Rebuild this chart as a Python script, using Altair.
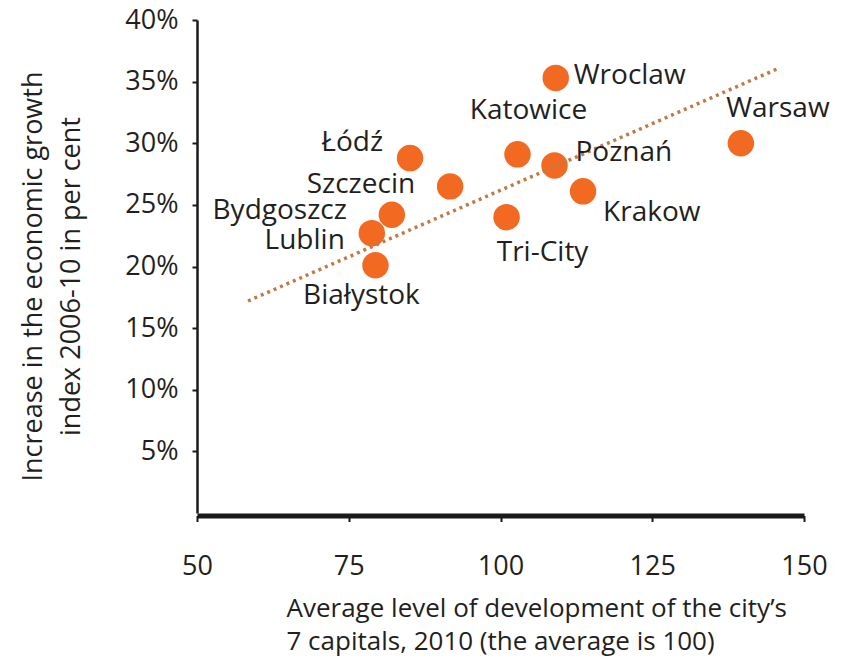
import altair as alt
import pandas as pd

# ---- data ----
cities = ["Wroclaw", "Warsaw", "Katowice", "Poznań", "Krakow", "Tri-City",
          "Szczecin", "Łódź", "Bydgoszcz", "Lublin", "Białystok"]
development = [109.1, 139.6, 102.8, 108.9, 113.6, 101.0, 91.7, 85.1, 82.1, 78.8, 79.4]
growth = [0.353, 0.300, 0.291, 0.282, 0.261, 0.240, 0.265, 0.288, 0.242, 0.227, 0.201]

trend_x = [58.4, 145.9]
trend_y = [0.172, 0.361]

x_ticks = [50, 75, 100, 125, 150]
y_ticks = [0.05, 0.10, 0.15, 0.20, 0.25, 0.30, 0.35, 0.40]

x_title = ["Average level of development of the city\u2019s",
           "7 capitals, 2010 (the average is 100)"]
y_title = ["Increase in the economic growth", "index 2006-10 in per cent"]

# label placement (style): align, dx, dy
placement = {
    "Wroclaw": ("left", 18, -2),
    "Katowice": ("center", 11, -43),
    "Warsaw": ("center", 37, -34),
    "Poznań": ("left", 21, -12),
    "Krakow": ("left", 20, 22),
    "Tri-City": ("center", 36, 36),
    "Łódź": ("right", -27, -15),
    "Szczecin": ("right", -35, -1),
    "Bydgoszcz": ("right", -45, -4),
    "Lublin": ("right", -27, 8),
    "Białystok": ("center", -14, 31),
}

df = pd.DataFrame({"city": cities, "dev": development, "growth": growth})
trend = pd.DataFrame({"dev": trend_x, "growth": trend_y})

FONT = "Open Sans"
ORANGE = "#f26a21"
TEXT = "#231f20"

xscale = alt.Scale(domain=[50, 150], nice=False, zero=False)
yscale = alt.Scale(domain=[0, 0.4], nice=False)

xaxis = alt.Axis(values=x_ticks, title=x_title, titleX=89, titleY=80,
                 titleAlign="left", titleBaseline="top", titleLineHeight=33,
                 titleFontSize=26, titleFontWeight="normal", titleColor=TEXT,
                 titleFont=FONT, labelFont=FONT, labelFontSize=27, labelColor=TEXT,
                 labelPadding=32, labelFlush=False, labelOverlap=False,
                 tickSize=6, tickWidth=2, tickColor="#1a1a1a",
                 domainWidth=5, domainColor="#1a1a1a", offset=2.5, grid=False)

yaxis = alt.Axis(values=y_ticks, format=".0%", title=y_title, titleAngle=270,
                 titleX=-177, titleY=256, titleAlign="center", titleBaseline="top",
                 titleLineHeight=38, titleFontSize=27, titleFontWeight="normal",
                 titleColor=TEXT, titleFont=FONT, labelFont=FONT, labelFontSize=27,
                 labelColor=TEXT, labelPadding=14, labelFlush=False,
                 labelOverlap=False, tickSize=5, tickWidth=2, tickColor="#1a1a1a",
                 domainWidth=2.5, domainColor="#1a1a1a", grid=False)

base = alt.Chart(df)

points = base.mark_circle(size=700, color=ORANGE, opacity=1).encode(
    x=alt.X("dev:Q", scale=xscale, axis=xaxis),
    y=alt.Y("growth:Q", scale=yscale, axis=yaxis),
)

line = alt.Chart(trend).mark_line(color="#c07a45", strokeWidth=3.5,
                                  strokeDash=[3, 4]).encode(
    x=alt.X("dev:Q", scale=xscale),
    y=alt.Y("growth:Q", scale=yscale),
)

labels = []
for c in cities:
    al, dx, dy = placement[c]
    labels.append(
        base.transform_filter(alt.datum.city == c).mark_text(
            align=al, baseline="middle", dx=dx, dy=dy, font=FONT,
            fontSize=28, color=TEXT
        ).encode(
            x=alt.X("dev:Q", scale=xscale),
            y=alt.Y("growth:Q", scale=yscale),
            text="city:N",
        )
    )

chart = alt.layer(points, line, *labels).properties(
    width=607, height=493,
    autosize=alt.AutoSizeParams(type="none"),
    padding={"left": 189, "top": 12, "right": 39, "bottom": 144},
    background="white",
).configure_view(stroke=None)

chart.save("out.html", embed_options={"renderer": "svg", "actions": False})
